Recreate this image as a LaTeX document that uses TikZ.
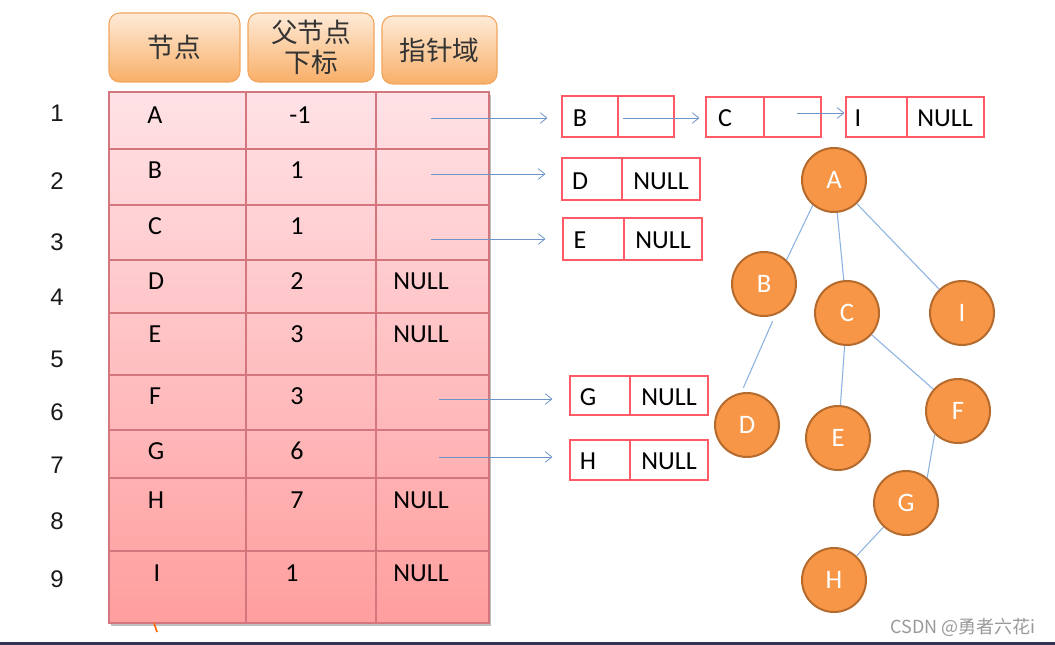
\documentclass[tikz,border=0pt]{standalone}
\usepackage{fontspec}
\setmainfont{Carlito}
\newfontfamily\cjk{Noto Sans CJK SC}
\newfontfamily\numfont{Liberation Sans}
\usetikzlibrary{arrows.meta}
\definecolor{gridred}{HTML}{D4767E}
\definecolor{boxred}{HTML}{FF5A66}
\definecolor{arrblue}{HTML}{6E95C9}
\definecolor{edgeblue}{HTML}{8DB3E2}
\definecolor{nodeor}{HTML}{F79646}
\definecolor{nodebr}{HTML}{B56A2E}
\definecolor{hdrtop}{HTML}{FEEBD8}
\definecolor{hdrbot}{HTML}{F8AF68}
\definecolor{hdrline}{HTML}{F3A55C}
\definecolor{tabtop}{HTML}{FFE2E6}
\definecolor{tabbot}{HTML}{FF9E9E}
\begin{document}
\begin{tikzpicture}[x=0.75pt,y=-0.75pt,
  hdr/.style={draw=hdrline, line width=0.8pt, rounded corners=8pt, top color=hdrtop, bottom color=hdrbot, inner sep=0pt, font=\cjk\fontsize{20}{24}\selectfont, text=black!80, align=center},
  txt/.style={inner sep=0pt, font=\fontsize{19.5}{22}\selectfont, text=black},
  rownum/.style={inner sep=0pt, font=\numfont\fontsize{18}{22}\selectfont, text=black!90},
  cell/.style={draw=boxred, line width=0.8pt, inner sep=0pt},
  arr/.style={draw=arrblue, line width=0.6pt, -{Straight Barb[length=5pt,width=8pt]}},
  tnode/.style={circle, fill=nodeor, draw=nodebr, line width=1.5pt, minimum size=48pt, inner sep=0pt, text=white, font=\fontsize{20}{22}\selectfont},
  edge/.style={draw=edgeblue, line width=0.8pt}
]
\useasboundingbox (0,0) rectangle (1055,645);
\fill[white] (0,0) rectangle (1055,645);

% header boxes
\node[hdr, minimum width=98.25pt, minimum height=51.75pt] (h1) at (174.5,47.5) {节点};
\node[hdr, minimum width=94.5pt, minimum height=51.75pt] (h2) at (311,47.5) {父节点\\[-2pt]下标};
\node[hdr, minimum width=86.25pt, minimum height=51pt] (h3) at (439.5,50) {指针域};

% table
\fill[black!25] (111,95) rectangle (491,626);
\shade[top color=tabtop, bottom color=tabbot] (109,92) rectangle (489,623);
\draw[gridred, line width=0.8pt] (109,92) rectangle (489,623);
\foreach \yy in {149,205,260,313,375,430,478,551}
  \draw[gridred, line width=0.8pt] (109,\yy) -- (489,\yy);
\draw[gridred, line width=0.8pt] (246,92) -- (246,623);
\draw[gridred, line width=0.8pt] (376,92) -- (376,623);
\draw[orange!80!red, line width=1.3pt] (154,623) -- (157,632);

% row numbers
\node[rownum] (r1) at (57,113) {1};
\node[rownum] (r2) at (57,181) {2};
\node[rownum] (r3) at (57,242) {3};
\node[rownum] (r4) at (57,297) {4};
\node[rownum] (r5) at (57,359) {5};
\node[rownum] (r6) at (57,412) {6};
\node[rownum] (r7) at (57,465) {7};
\node[rownum] (r8) at (57,521) {8};
\node[rownum] (r9) at (57,579) {9};

% table texts
\node[txt] (tA) at (155,115) {A};
\node[txt] (tA2) at (300,115) {-1};
\node[txt] (tB) at (155,170) {B};
\node[txt] (tB2) at (297,170) {1};
\node[txt] (tC) at (155,226) {C};
\node[txt] (tC2) at (297,226) {1};
\node[txt] (tD) at (156,281) {D};
\node[txt] (tD2) at (297,281) {2};
\node[txt] (tD3) at (421,281) {NULL};
\node[txt] (tE) at (155,334) {E};
\node[txt] (tE2) at (297,334) {3};
\node[txt] (tE3) at (421,334) {NULL};
\node[txt] (tF) at (155,396) {F};
\node[txt] (tF2) at (297,396) {3};
\node[txt] (tG) at (156,451) {G};
\node[txt] (tG2) at (297,451) {6};
\node[txt] (tH) at (156,500) {H};
\node[txt] (tH2) at (297,500) {7};
\node[txt] (tH3) at (421,500) {NULL};
\node[txt] (tI) at (157,573) {I};
\node[txt] (tI2) at (292,573) {1};
\node[txt] (tI3) at (421,573) {NULL};

% list boxes
\node[cell, minimum width=42pt, minimum height=30.75pt] (bB1) at (590,116.5) {};
\node[cell, minimum width=42pt, minimum height=30.75pt] (bB2) at (646,116.5) {};
\node[txt] (lB) at (580,118) {B};
\node[cell, minimum width=43.5pt, minimum height=30pt] (bC1) at (735,117) {};
\node[cell, minimum width=42.75pt, minimum height=30pt] (bC2) at (792.5,117) {};
\node[txt] (lC) at (725,118) {C};
\node[cell, minimum width=45.75pt, minimum height=30pt] (bI1) at (876.5,117) {};
\node[cell, minimum width=57.75pt, minimum height=30pt] (bI2) at (945.5,117) {};
\node[txt] (lI) at (858,118) {I};
\node[txt] (lI2) at (945,118) {NULL};

\node[cell, minimum width=45pt, minimum height=31.5pt] (bD1) at (592,179) {};
\node[cell, minimum width=58.5pt, minimum height=31.5pt] (bD2) at (661,179) {};
\node[txt] (lD) at (580,181) {D};
\node[txt] (lD2) at (661,181) {NULL};

\node[cell, minimum width=45.75pt, minimum height=31.5pt] (bE1) at (593.5,239) {};
\node[cell, minimum width=58.5pt, minimum height=31.5pt] (bE2) at (663,239) {};
\node[txt] (lE) at (580,240) {E};
\node[txt] (lE2) at (663,240) {NULL};

\node[cell, minimum width=45pt, minimum height=29.25pt] (bG1) at (600,395.5) {};
\node[cell, minimum width=58.5pt, minimum height=29.25pt] (bG2) at (669,395.5) {};
\node[txt] (lG) at (588,397) {G};
\node[txt] (lG2) at (669,397) {NULL};

\node[cell, minimum width=45pt, minimum height=30pt] (bH1) at (600,460) {};
\node[cell, minimum width=58.5pt, minimum height=30pt] (bH2) at (669,460) {};
\node[txt] (lH) at (588,461) {H};
\node[txt] (lH2) at (669,461) {NULL};

% pointer arrows
\coordinate (p1) at (431,118);
\coordinate (p2) at (431,174);
\coordinate (p3) at (431,239);
\coordinate (p6) at (439,399);
\coordinate (p7) at (439,457);
\coordinate (pB) at (623,118);
\coordinate (pC) at (797,113);
\draw[arr, shorten >=10.5pt] (p1) -- (p1 -| bB1.west);
\draw[arr, shorten >=12pt] (p2) -- (p2 -| bD1.west);
\draw[arr, shorten >=12.75pt] (p3) -- (p3 -| bE1.west);
\draw[arr, shorten >=12.75pt] (p6) -- (p6 -| bG1.west);
\draw[arr, shorten >=12.75pt] (p7) -- (p7 -| bH1.west);
\draw[arr, shorten >=4.5pt] (pB) -- (pB -| bC1.west);
\draw[arr, shorten >=0.75pt] (pC) -- (pC -| bI1.west);

% tree
\node[tnode] (nA) at (834,180) {A};
\node[tnode] (nB) at (764,284) {B};
\node[tnode] (nC) at (847,313) {C};
\node[tnode] (nI) at (962,313) {I};
\node[tnode] (nD) at (747,425) {D};
\node[tnode] (nE) at (838,438) {E};
\node[tnode] (nF) at (958,411) {F};
\node[tnode] (nG) at (906,503) {G};
\node[tnode] (nH) at (834,580) {H};
\draw[edge] (nA.-130) -- (nB.47);
\draw[edge] (nA) -- (nC);
\draw[edge] (nA) -- (nI);
\draw[edge, shorten <=5pt, shorten >=4pt] (nB.-70) -- (nD.100);
\draw[edge] (nC) -- (nE);
\draw[edge] (nC) -- (nF);
\draw[edge] (nF.-135) -- (nG.50);
\draw[edge] (nG) -- (nH);

% watermark and bottom bar
\node[inner sep=0pt, text=black!40, font=\cjk\fontsize{13.5}{16}\selectfont] (wm) at (963,627) {CSDN @勇者六花i};
\fill[black!80!blue!60!gray] (0,642) rectangle (1055,645);
\end{tikzpicture}
\end{document}
